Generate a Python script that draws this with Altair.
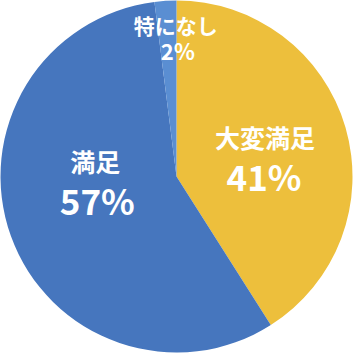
import math
import altair as alt
import pandas as pd

# Survey answers, shares in percent
categories = ["大変満足", "満足", "特になし"]
shares = [41, 57, 2]
pct_labels = ["41%", "57%", "2%"]
palette = ["#EDBF3C", "#4676BE", "#5A8ED2"]

df = pd.DataFrame({
    "cat": categories,
    "value": shares,
    "pct": pct_labels,
    "order": list(range(len(categories))),
})

font = "Noto Sans CJK JP"

pie = alt.Chart(df).mark_arc(outerRadius=176, strokeWidth=0).encode(
    theta=alt.Theta("value:Q", stack=True),
    order=alt.Order("order:Q"),
    color=alt.Color("cat:N", scale=alt.Scale(domain=categories, range=palette), legend=None),
)

# Label anchor: midpoint of each slice on a fixed 0-100 angular scale
label_base = (
    alt.Chart(df)
    .transform_window(cum="sum(value)", sort=[alt.SortField("order")])
    .transform_calculate(mid="datum.cum - datum.value / 2")
)
theta_mid = alt.Theta("mid:Q", stack=None,
                      scale=alt.Scale(domain=[0, 100], range=[0, 2 * math.pi]))


def label(cat, radius, name_dx, name_dy, name_size, pct_dx, pct_dy, pct_size):
    sub = label_base.transform_filter(alt.datum.cat == cat)
    name = sub.mark_text(font=font, fontWeight="bold", color="white", baseline="middle",
                         radius=radius, dx=name_dx, dy=name_dy, fontSize=name_size).encode(
        theta=theta_mid, text="cat:N")
    pct = sub.mark_text(font=font, fontWeight="bold", color="white", baseline="middle",
                        radius=radius, dx=pct_dx, dy=pct_dy, fontSize=pct_size).encode(
        theta=theta_mid, text="pct:N")
    return [name, pct]


layers = [pie]
layers += label("大変満足", 88, 4, -12, 25, 3, 28, 35)
layers += label("満足", 80, -6, -40, 25, -4, 0, 35)
layers += label("特になし", 138, 8, -11, 21, 10, 14, 22)

chart = (
    alt.layer(*layers)
    .properties(
        width=353,
        height=353,
        padding=0,
        autosize=alt.AutoSizeParams(type="fit", contains="padding"),
    )
    .configure_view(stroke=None)
    .configure(background="white")
)

chart.save("out.html", embed_options={"renderer": "svg", "actions": False})
